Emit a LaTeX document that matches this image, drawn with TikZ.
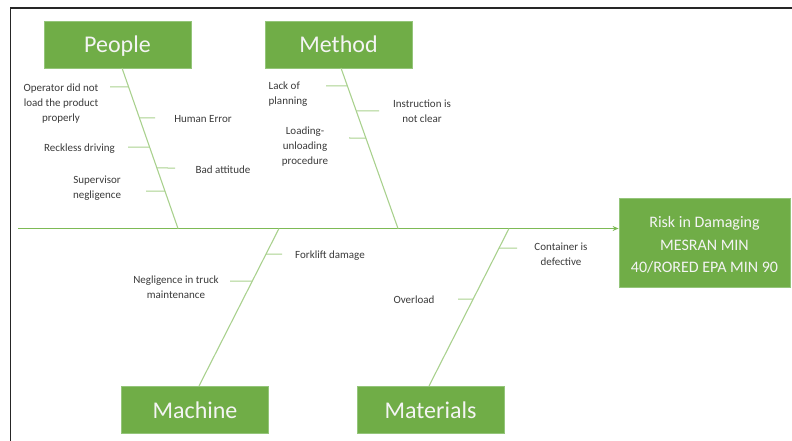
\documentclass[tikz,border=0pt]{standalone}
\usepackage{fontspec}
\setmainfont{Carlito}
\usetikzlibrary{calc,arrows.meta}
\definecolor{boxgreen}{HTML}{70AD47}
\definecolor{boxedge}{HTML}{94C57A}
\definecolor{bonegreen}{HTML}{A9D18E}
\definecolor{spinegreen}{HTML}{7DBA55}
\definecolor{labelgray}{HTML}{3A3A3A}
\definecolor{boxtext}{HTML}{F4F4F4}
\tikzset{
  catbox/.style={fill=boxgreen,draw=boxedge,line width=0.8pt,minimum width=147pt,minimum height=47pt,inner sep=0pt,text=boxtext,text height=16pt,text depth=0pt,font=\fontsize{24}{28}\selectfont},
  effectbox/.style={fill=boxgreen,draw=boxedge,line width=0.8pt,minimum width=171pt,minimum height=89pt,inner sep=0pt},
  efftext/.style={inner sep=0pt,text=boxtext,align=center,font=\fontsize{16}{22.5}\selectfont},
  bone/.style={draw=bonegreen,line width=1.1pt},
  tick/.style={draw=bonegreen,line width=1pt},
  spine/.style={draw=spinegreen,line width=1.6pt},
  cause/.style={inner sep=0pt,text=labelgray,align=center,yshift=-1.5pt,font=\fontsize{11}{15}\selectfont},
  frameline/.style={draw=black!85,line width=1.8pt}
}
\begin{document}
\begin{tikzpicture}[x=1pt,y=-1pt]
\useasboundingbox (0,0) rectangle (792,441);
% frame
\coordinate (fTL) at (10.5,8);
\coordinate (fTR) at (792,8);
\coordinate (fBL) at (10.5,441);
\draw[frameline] (fTR) -- (fTL) -- (fBL);

% boxes
\node[catbox] (people) at (117.5,44.5) {People};
\node[catbox] (method) at (338.5,44.5) {Method};
\node[catbox] (machine) at (195,410) {Machine};
\node[catbox] (materials) at (430.5,410) {Materials};
\node[effectbox] (risk) at (704.5,242.5) {};
\node[efftext] (risktext) at ([yshift=-2.5pt]risk.center) {Risk in Damaging\\MESRAN MIN\\40/RORED EPA MIN 90};

% spine
\coordinate (spineL) at (18,228.5);
\draw[spine,-{Stealth[length=6pt,width=5pt]}] (spineL) -- (spineL -| risk.west);

% bone end points
\coordinate (pTop) at (122,68);   \coordinate (pBot) at (178,228.5);
\coordinate (mTop) at (341,68);   \coordinate (mBot) at (398,228.5);
\coordinate (maTop) at (279,228.5); \coordinate (maBot) at (199,386);
\coordinate (mtTop) at (509,228.5); \coordinate (mtBot) at (429,386);
\draw[bone] (pTop) -- (pBot);
\draw[bone] (mTop) -- (mBot);
\draw[bone] (maTop) -- (maBot);
\draw[bone] (mtTop) -- (mtBot);

% People ticks
\coordinate (p1) at ($(pTop)!{(87-68)/160.5}!(pBot)$);
\coordinate (p2) at ($(pTop)!{(118-68)/160.5}!(pBot)$);
\coordinate (p3) at ($(pTop)!{(147-68)/160.5}!(pBot)$);
\coordinate (p4) at ($(pTop)!{(168-68)/160.5}!(pBot)$);
\coordinate (p5) at ($(pTop)!{(191-68)/160.5}!(pBot)$);
\coordinate (p1e) at (110,87);
\coordinate (p2e) at (155,118);
\coordinate (p3e) at (128,147);
\coordinate (p4e) at (175,168);
\coordinate (p5e) at (146,191);
\draw[tick] (p1e) -- (p1);
\draw[tick] (p2) -- (p2e);
\draw[tick] (p3e) -- (p3);
\draw[tick] (p4) -- (p4e);
\draw[tick] (p5e) -- (p5);
\node[cause] (pl1) at (61,102) {Operator did not\\load the product\\properly};
\node[cause] (pl2) at (203,118) {Human Error};
\node[cause] (pl3) at (79.5,147) {Reckless driving};
\node[cause] (pl4) at (223,168) {Bad attitude};
\node[cause] (pl5) at (97,186.5) {Supervisor\\negligence};

% Method ticks
\coordinate (m1) at ($(mTop)!{(86-68)/160.5}!(mBot)$);
\coordinate (m2) at ($(mTop)!{(111-68)/160.5}!(mBot)$);
\coordinate (m3) at ($(mTop)!{(138-68)/160.5}!(mBot)$);
\coordinate (m1e) at (326,86);
\coordinate (m2e) at (379,111);
\coordinate (m3e) at (349,138);
\draw[tick] (m1e) -- (m1);
\draw[tick] (m2) -- (m2e);
\draw[tick] (m3e) -- (m3);
\node[cause,align=left,anchor=west] (ml1) at (268.5,92.5) {Lack of\\planning};
\node[cause] (ml2) at (422,110) {Instruction is\\not clear};
\node[cause] (ml3) at (305,145) {Loading-\\unloading\\procedure};

% Machine ticks
\coordinate (a1) at ($(maTop)!{(254-228.5)/157.5}!(maBot)$);
\coordinate (a2) at ($(maTop)!{(281-228.5)/157.5}!(maBot)$);
\coordinate (a1e) at (282,254);
\coordinate (a2e) at (230,281);
\draw[tick] (a1) -- (a1e);
\draw[tick] (a2e) -- (a2);
\node[cause] (al1) at (330,254) {Forklift damage};
\node[cause] (al2) at (176,285.5) {Negligence in truck\\maintenance};

% Materials ticks
\coordinate (t1) at ($(mtTop)!{(248-228.5)/157.5}!(mtBot)$);
\coordinate (t2) at ($(mtTop)!{(299-228.5)/157.5}!(mtBot)$);
\coordinate (t1e) at (517,248);
\coordinate (t2e) at (458,299);
\draw[tick] (t1) -- (t1e);
\draw[tick] (t2e) -- (t2);
\node[cause] (tl1) at (561,252.5) {Container is\\defective};
\node[cause] (tl2) at (414,298) {Overload};
\end{tikzpicture}
\end{document}
